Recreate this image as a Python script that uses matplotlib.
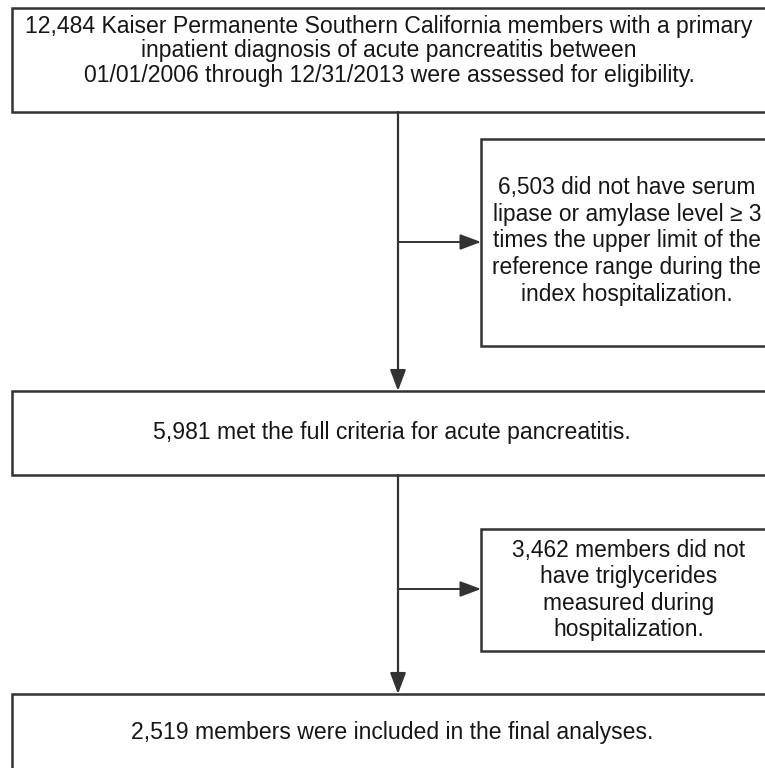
import matplotlib.pyplot as plt
from matplotlib.patches import Rectangle

plt.rcParams['font.family'] = ['Liberation Sans', 'DejaVu Sans']

# flowchart content
main_texts = [
    "12,484 Kaiser Permanente Southern California members with a primary\n"
    "inpatient diagnosis of acute pancreatitis between\n"
    "01/01/2006 through 12/31/2013 were assessed for eligibility.",
    "5,981 met the full criteria for acute pancreatitis.",
    "2,519 members were included in the final analyses.",
]
side_texts = [
    "6,503 did not have serum\nlipase or amylase level \u2265 3\ntimes the upper limit of the\n"
    "reference range during the\nindex hospitalization.",
    "3,462 members did not\nhave triglycerides\nmeasured during\nhospitalization.",
]

# box geometry in pixels (x0, y0, x1, y1), y downwards
main_boxes = [(12, 8, 775, 112), (12, 391, 775, 475), (12, 694, 775, 790)]
side_boxes = [(481, 139, 775, 346), (481, 529, 775, 651)]
main_text_pos = [(389, 51), (392, 432), (392, 733)]
side_text_pos = [(627, 241), (629, 590)]
arrow_y = [242, 589]
spine_x = 398

fig = plt.figure(figsize=(7.65, 7.68), dpi=100)
ax = fig.add_axes([0, 0, 1, 1])
ax.set_xlim(0, 765)
ax.set_ylim(768, 0)
ax.axis('off')

lc = '#333333'
tc = '#161616'
for (x0, y0, x1, y1), t, (tx, ty) in zip(main_boxes, main_texts, main_text_pos):
    ax.add_patch(Rectangle((x0, y0), x1 - x0, y1 - y0, facecolor='white',
                           edgecolor=lc, lw=1.8))
    ax.text(tx, ty, t, ha='center', va='center', fontsize=16.6, color=tc,
            linespacing=1.08)

for (x0, y0, x1, y1), t, (tx, ty) in zip(side_boxes, side_texts, side_text_pos):
    ax.add_patch(Rectangle((x0, y0), x1 - x0, y1 - y0, facecolor='white',
                           edgecolor=lc, lw=1.8))
    ax.text(tx, ty, t, ha='center', va='center', fontsize=16.4, color=tc,
            linespacing=1.2, clip_on=True)

# vertical connectors with arrows into the next main box
for i in range(len(main_boxes) - 1):
    y_start = main_boxes[i][3]
    y_end = main_boxes[i + 1][1]
    ax.annotate('', xy=(spine_x, y_end), xytext=(spine_x, y_start),
                arrowprops=dict(arrowstyle='-|>,head_length=0.8,head_width=0.3',
                                color=lc, lw=1.6,
                                mutation_scale=16, shrinkA=0, shrinkB=0))
    ax.annotate('', xy=(side_boxes[i][0], arrow_y[i]), xytext=(spine_x, arrow_y[i]),
                arrowprops=dict(arrowstyle='-|>,head_length=0.8,head_width=0.3',
                                color=lc, lw=1.4,
                                mutation_scale=16, shrinkA=0, shrinkB=0))

fig.savefig('out.png', dpi=100)
